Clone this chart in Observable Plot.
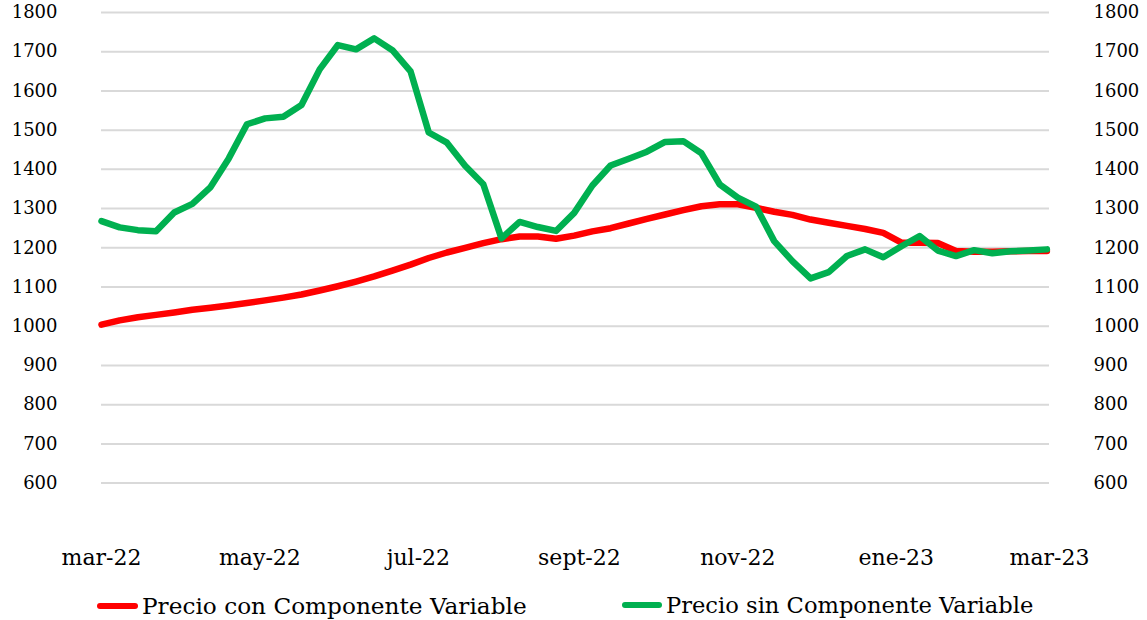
<!DOCTYPE html>
<html>
<head>
<meta charset="utf-8">
<script src="https://cdn.jsdelivr.net/npm/d3@7"></script>
<script src="https://cdn.jsdelivr.net/npm/@observablehq/plot@0.6"></script>
<style>
  html, body { margin: 0; padding: 0; background: #fff; }
  #wrap { position: relative; width: 1147px; height: 620px; background: #fff; font-family: "DejaVu Serif", serif; color: #000; }
  .leg { position: absolute; top: 592px; display: flex; align-items: center; font-size: 23px; white-space: nowrap; }
  .sw { display: inline-block; height: 6px; border-radius: 3px; margin-right: 4px; }
</style>
</head>
<body>
<div id="wrap"></div>
<script>
// ---- data (weekly, from 1 Mar 2022) ----
const startDate = "2022-03-01";
const seriesNames = ["Precio con Componente Variable", "Precio sin Componente Variable"];
const seriesColors = ["#ff0000", "#00b050"];

const precioCon = [
  1004, 1015, 1023, 1029, 1035, 1042, 1047, 1053, 1059, 1066,
  1073, 1081, 1091, 1102, 1114, 1127, 1142, 1157, 1174, 1188,
  1200, 1212, 1222, 1229, 1229, 1223, 1231, 1242, 1250, 1262,
  1274, 1285, 1296, 1306, 1311, 1311, 1302, 1292, 1284, 1272,
  1264, 1256, 1248, 1238, 1213, 1213, 1212, 1192, 1190, 1190,
  1191, 1192, 1192
];
const precioSin = [
  1268, 1252, 1245, 1242, 1290, 1312, 1355, 1428, 1515, 1530,
  1534, 1564, 1655, 1717, 1706, 1734, 1704, 1650, 1494, 1468,
  1409, 1362, 1224, 1266, 1253, 1243, 1289, 1359, 1410, 1427,
  1445, 1470, 1472, 1441, 1362, 1328, 1305, 1217, 1166, 1122,
  1138, 1179, 1196, 1176, 1204, 1230, 1193, 1179, 1194, 1186,
  1191, 1193, 1196
];

const yTicks = [600, 700, 800, 900, 1000, 1100, 1200, 1300, 1400, 1500, 1600, 1700, 1800];
const xTickDates = ["2022-03-01", "2022-05-01", "2022-07-01", "2022-09-01", "2022-11-01", "2023-01-01", "2023-03-01"];
const xTickLabels = ["mar-22", "may-22", "jul-22", "sept-22", "nov-22", "ene-23", "mar-23"];

// ---- build table ----
const t0 = new Date(startDate + "T00:00:00Z");
const rows = [];
[precioCon, precioSin].forEach((vals, s) => {
  vals.forEach((v, i) => rows.push({date: d3.utcDay.offset(t0, 7 * i), value: v, series: seriesNames[s]}));
});
const xTicks = xTickDates.map(d => new Date(d + "T00:00:00Z"));
const fmtY = d => String(d);

const chart = Plot.plot({
  width: 1147,
  height: 580,
  marginLeft: 101,
  marginRight: 98,
  marginTop: 12,
  marginBottom: 97.4,
  style: {fontFamily: "DejaVu Serif", fontSize: "18px", color: "#000", background: "#fff"},
  x: {type: "utc", domain: [xTicks[0], xTicks[xTicks.length - 1]]},
  y: {domain: [600, 1800]},
  color: {domain: seriesNames, range: seriesColors},
  marks: [
    Plot.ruleY(yTicks, {stroke: "#d9d9d9", strokeWidth: 2}),
    Plot.axisY({anchor: "left", ticks: yTicks, tickFormat: fmtY, tickSize: 0, tickPadding: 44, label: null, fontSize: 18, fill: "#000"}),
    Plot.axisY({anchor: "right", ticks: yTicks, tickFormat: fmtY, tickSize: 0, tickPadding: 44, label: null, fontSize: 18, fill: "#000"}),
    Plot.axisX({ticks: xTicks, tickFormat: (d, i) => xTickLabels[i], tickSize: 0, tickPadding: 66, label: null, fontSize: 22, fill: "#000"}),
    Plot.line(rows.filter(r => r.series === seriesNames[0]), {x: "date", y: "value", stroke: "series", strokeWidth: 6.5, strokeLinejoin: "round", strokeLinecap: "round"}),
    Plot.line(rows.filter(r => r.series === seriesNames[1]), {x: "date", y: "value", stroke: "series", strokeWidth: 6.5, strokeLinejoin: "round", strokeLinecap: "round"})
  ]
});
const wrap = document.getElementById("wrap");
wrap.appendChild(chart);

// ---- legend ----
const legendLeft = [97, 622];
const swatchW = [41, 40];
seriesNames.forEach((name, i) => {
  const item = document.createElement("div");
  item.className = "leg";
  item.style.left = legendLeft[i] + "px";
  item.style.fontSize = i === 0 ? "23.2px" : "22.6px";
  const sw = document.createElement("span");
  sw.className = "sw";
  sw.style.width = swatchW[i] + "px";
  sw.style.background = seriesColors[i];
  const tx = document.createElement("span");
  tx.textContent = name;
  item.appendChild(sw);
  item.appendChild(tx);
  wrap.appendChild(item);
});
</script>
</body>
</html>
